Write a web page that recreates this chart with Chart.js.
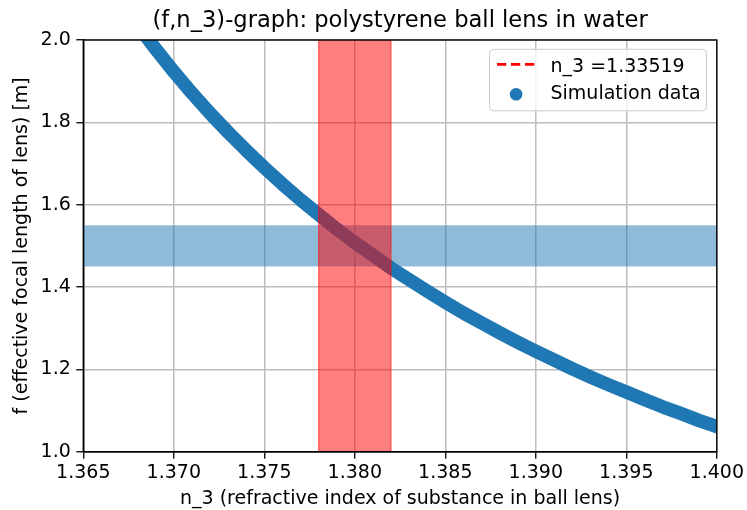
<!DOCTYPE html>
<html>
<head>
<meta charset="utf-8">
<script src="https://cdn.jsdelivr.net/npm/chart.js@4.4.0/dist/chart.umd.min.js"></script>
<style>
  html, body { margin: 0; padding: 0; background: #ffffff; }
  #wrap { width: 747px; height: 510px; }
</style>
</head>
<body>
<div id="wrap"><canvas id="chart" width="747" height="510"></canvas></div>
<script>
// Refractive index of the ball-lens material (x) and effective focal length in metres (y)
const lensIndex = [
  1.367, 1.368, 1.369, 1.370, 1.371, 1.372, 1.373, 1.374, 1.375, 1.376,
  1.377, 1.378, 1.379, 1.380, 1.381, 1.382, 1.383, 1.384, 1.385, 1.386,
  1.387, 1.388, 1.389, 1.390, 1.391, 1.392, 1.393, 1.394, 1.395, 1.396,
  1.397, 1.398, 1.399, 1.400, 1.401
];
const focalLength = [
  2.098, 2.036, 1.978, 1.923, 1.871, 1.822, 1.776, 1.732, 1.690, 1.650,
  1.612, 1.576, 1.541, 1.508, 1.477, 1.446, 1.418, 1.390, 1.363, 1.337,
  1.313, 1.289, 1.266, 1.244, 1.223, 1.202, 1.182, 1.163, 1.145, 1.127,
  1.109, 1.093, 1.076, 1.061, 1.045
];

// Refractive index of the surrounding water
const waterIndex = 1.33519;

// Shaded ranges: lens index window and target focal length window
const indexBand = [1.378, 1.382];
const focalBand = [1.45, 1.55];

// Axis ranges and tick values
const xRange = [1.365, 1.400];
const yRange = [1.0, 2.0];
const xTicks = [1.365, 1.370, 1.375, 1.380, 1.385, 1.390, 1.395, 1.400];
const yTicks = [1.0, 1.2, 1.4, 1.6, 1.8, 2.0];

const titleText = '(f,n_3)-graph: polystyrene ball lens in water';
const xLabel = 'n_3 (refractive index of substance in ball lens)';
const yLabel = 'f (effective focal length of lens) [m]';
const waterLabel = 'n_3 =' + waterIndex;
const simLabel = 'Simulation data';

const FONT = 'DejaVu Sans';
const BLUE = '#1f77b4';
const GRID = '#bdbdbd';

const simPoints = lensIndex.map((n, i) => ({ x: n, y: focalLength[i] }));
const waterLine = [{ x: waterIndex, y: yRange[0] }, { x: waterIndex, y: yRange[1] }];

// Bands, frame, title and legend drawn through the chart's scales
const decorations = {
  id: 'decorations',
  beforeDatasetsDraw(chart) {
    const { ctx, chartArea: a, scales: { y } } = chart;
    ctx.save();
    ctx.beginPath();
    ctx.rect(a.left, a.top, a.right - a.left, a.bottom - a.top);
    ctx.clip();
    const y1 = y.getPixelForValue(focalBand[1]);
    const y0 = y.getPixelForValue(focalBand[0]);
    ctx.fillStyle = 'rgba(31,119,180,0.5)';
    ctx.fillRect(a.left, y1, a.right - a.left, y0 - y1);
    ctx.restore();
  },
  afterDatasetsDraw(chart) {
    const { ctx, chartArea: a, scales: { x } } = chart;
    ctx.save();
    // lens index window, on top of the curve
    const x0 = x.getPixelForValue(indexBand[0]);
    const x1 = x.getPixelForValue(indexBand[1]);
    ctx.fillStyle = 'rgba(255,0,0,0.5)';
    ctx.fillRect(x0, a.top, x1 - x0, a.bottom - a.top);
    ctx.strokeStyle = 'rgba(255,0,0,0.5)';
    ctx.lineWidth = 1.3;
    ctx.beginPath();
    ctx.moveTo(x0, a.top); ctx.lineTo(x0, a.bottom);
    ctx.moveTo(x1, a.top); ctx.lineTo(x1, a.bottom);
    ctx.stroke();
    // axes frame
    ctx.strokeStyle = '#000000';
    ctx.lineWidth = 1.4;
    ctx.strokeRect(a.left, a.top, a.right - a.left, a.bottom - a.top);
    ctx.restore();
  },
  afterDraw(chart) {
    const { ctx, chartArea: a } = chart;
    ctx.save();
    // title
    ctx.fillStyle = '#000000';
    ctx.font = '22.6px "' + FONT + '"';
    ctx.textAlign = 'center';
    ctx.textBaseline = 'alphabetic';
    ctx.fillText(titleText, (a.left + a.right) / 2, 27);

    // legend
    const bw = 217, bh = 61.5;
    const bx = a.right - 10.3 - bw, by = a.top + 9.3;
    ctx.beginPath();
    ctx.roundRect(bx, by, bw, bh, 4);
    ctx.fillStyle = 'rgba(255,255,255,0.8)';
    ctx.fill();
    ctx.strokeStyle = '#cccccc';
    ctx.lineWidth = 1;
    ctx.stroke();

    const ds = chart.data.datasets;
    // dashed line entry
    ctx.strokeStyle = ds[1].borderColor;
    ctx.lineWidth = 2.7;
    ctx.setLineDash([9.3, 4.7]);
    ctx.beginPath();
    ctx.moveTo(bx + 7.5, by + 15);
    ctx.lineTo(bx + 45.5, by + 15);
    ctx.stroke();
    ctx.setLineDash([]);
    // marker entry
    ctx.fillStyle = ds[0].borderColor;
    ctx.beginPath();
    ctx.arc(bx + 26.6, by + 45, 6.3, 0, Math.PI * 2);
    ctx.fill();

    ctx.fillStyle = '#000000';
    ctx.font = '19px "' + FONT + '"';
    ctx.textAlign = 'left';
    ctx.textBaseline = 'alphabetic';
    ctx.fillText(ds[1].label, bx + 61, by + 22.4);
    ctx.fillText(ds[0].label, bx + 61, by + 50);
    ctx.restore();
  }
};

new Chart(document.getElementById('chart'), {
  type: 'scatter',
  data: {
    datasets: [
      {
        label: simLabel,
        data: simPoints,
        showLine: true,
        borderColor: BLUE,
        backgroundColor: BLUE,
        borderWidth: 13.5,
        borderCapStyle: 'round',
        borderJoinStyle: 'round',
        pointRadius: 0,
        tension: 0,
        clip: 0,
        order: 1
      },
      {
        label: waterLabel,
        data: waterLine,
        showLine: true,
        borderColor: '#ff0000',
        backgroundColor: '#ff0000',
        borderWidth: 2.7,
        borderDash: [9.3, 4.7],
        pointRadius: 0,
        clip: 0,
        order: 0
      }
    ]
  },
  options: {
    responsive: false,
    devicePixelRatio: 1,
    animation: false,
    events: [],
    layout: { padding: { left: 0, right: 29, top: 40, bottom: 0 } },
    plugins: {
      legend: { display: false },
      title: { display: false },
      tooltip: { enabled: false }
    },
    scales: {
      x: {
        type: 'linear',
        min: xRange[0],
        max: xRange[1],
        afterFit(s) { s.height = 58.3; },
        afterBuildTicks(s) { s.ticks = xTicks.map(v => ({ value: v })); },
        ticks: {
          callback: v => Number(v).toFixed(3),
          color: '#000000',
          font: { family: FONT, size: 19 },
          padding: 3,
          maxRotation: 0,
          autoSkip: false
        },
        grid: {
          color: GRID,
          lineWidth: 1.5,
          drawTicks: true,
          tickLength: 7,
          tickColor: '#000000',
          tickWidth: 1.3
        },
        border: { display: true, color: '#000000', width: 1.4 },
        title: {
          display: true,
          text: xLabel,
          color: '#000000',
          font: { family: FONT, size: 19 },
          padding: { top: 0, bottom: 0 }
        }
      },
      y: {
        type: 'linear',
        min: yRange[0],
        max: yRange[1],
        afterFit(s) { s.width = 83.3; },
        afterBuildTicks(s) { s.ticks = yTicks.map(v => ({ value: v })); },
        ticks: {
          callback: v => Number(v).toFixed(1),
          color: '#000000',
          font: { family: FONT, size: 19 },
          padding: 5.5,
          autoSkip: false
        },
        grid: {
          color: GRID,
          lineWidth: 1.5,
          drawTicks: true,
          tickLength: 7,
          tickColor: '#000000',
          tickWidth: 1.3
        },
        border: { display: true, color: '#000000', width: 1.4 },
        title: {
          display: true,
          text: yLabel,
          color: '#000000',
          font: { family: FONT, size: 19 },
          padding: { top: 11, bottom: 0 }
        }
      }
    }
  },
  plugins: [decorations]
});
</script>
</body>
</html>
